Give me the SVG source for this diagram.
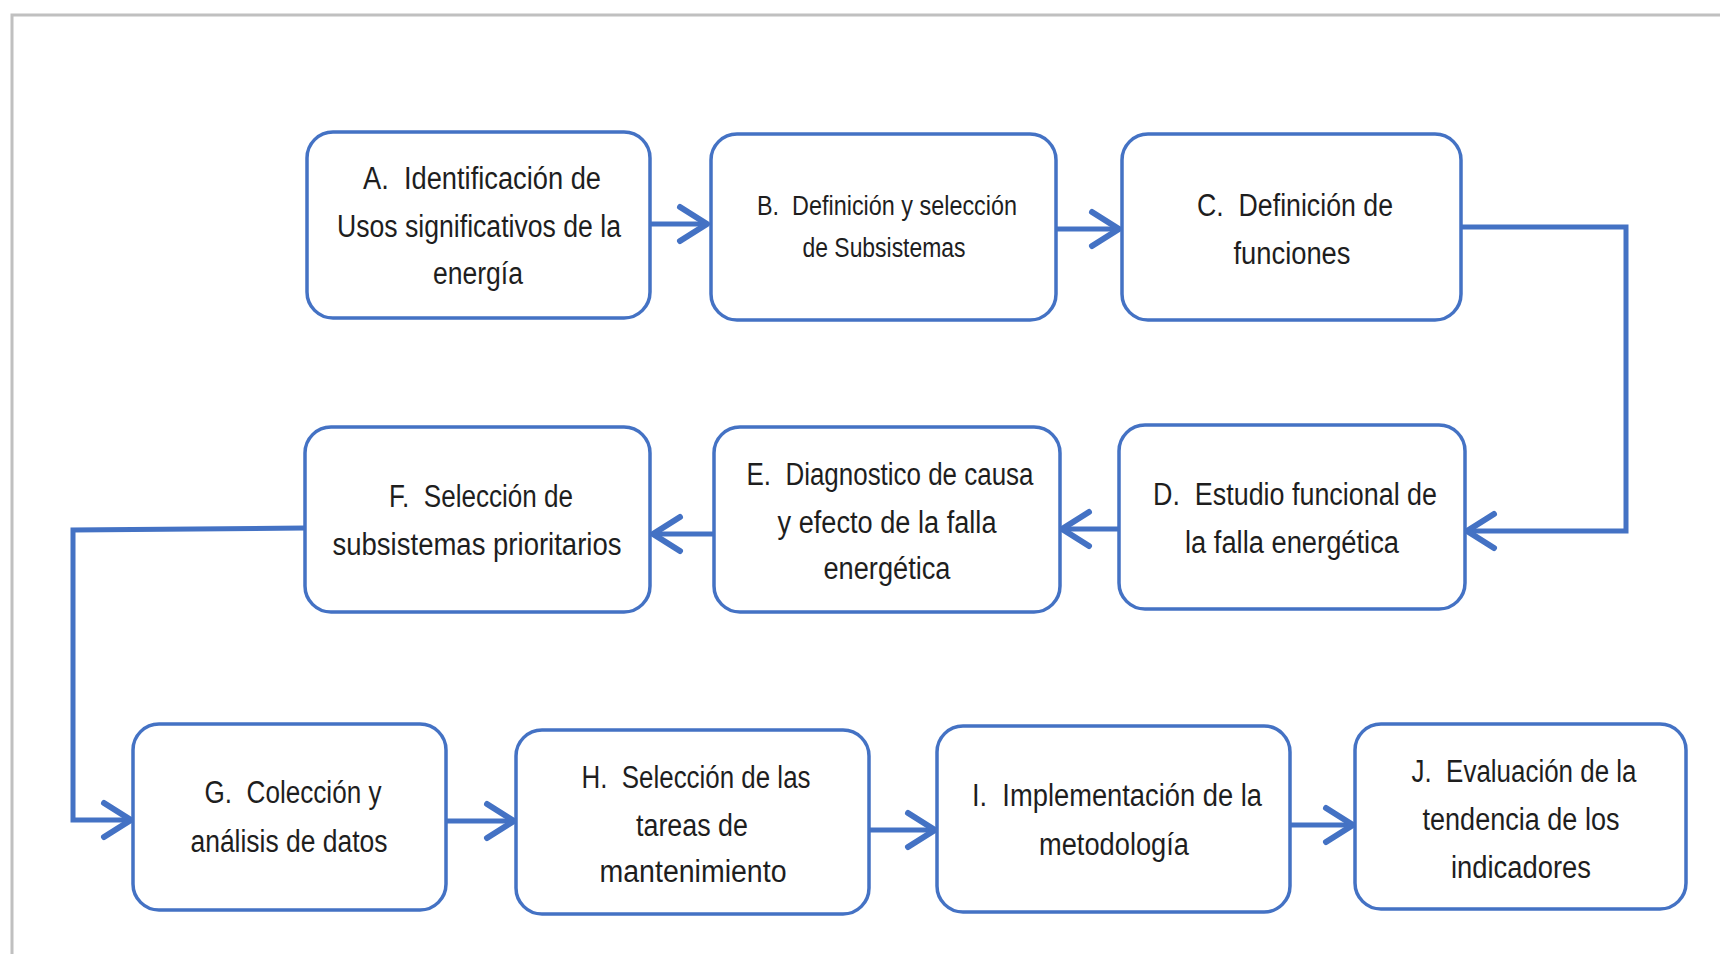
<svg xmlns="http://www.w3.org/2000/svg" width="1720" height="954" viewBox="0 0 1720 954">
<style>
.frame{fill:none;stroke:#c0c0c0;stroke-width:3}
.box{fill:#ffffff;stroke:#4472C4;stroke-width:3.5}
.t{font-family:"Liberation Sans",Arial,sans-serif;font-size:31px;fill:#1e1e1e;text-anchor:middle;white-space:pre}
.ts{font-size:27px}
.conn{fill:none;stroke:#4472C4;stroke-width:5;stroke-linejoin:miter}
</style>
<defs>
<marker id="arr" markerUnits="userSpaceOnUse" viewBox="-34 -22 40 44" refX="0" refY="0" markerWidth="40" markerHeight="44" orient="auto" overflow="visible">
<path d="M-27,-17 L0,0 L-27,17" fill="none" stroke="#4472C4" stroke-width="6" stroke-linecap="round" stroke-linejoin="round"/>
</marker>
</defs>
<rect width="1720" height="954" fill="#ffffff"/>
<rect class="frame" x="12" y="15" width="1760" height="1000"/>

<g id="connectors">
<path class="conn" d="M651,224 H707" marker-end="url(#arr)"/>
<path class="conn" d="M1057,229 H1119" marker-end="url(#arr)"/>
<path class="conn" d="M1461,227 H1626 V531 H1467" marker-end="url(#arr)"/>
<path class="conn" d="M1119,529 H1062" marker-end="url(#arr)"/>
<path class="conn" d="M714,534 H653" marker-end="url(#arr)"/>
<path class="conn" d="M305,528 L73,530 V820 H131" marker-end="url(#arr)"/>
<path class="conn" d="M447,821 H514" marker-end="url(#arr)"/>
<path class="conn" d="M870,830 H935" marker-end="url(#arr)"/>
<path class="conn" d="M1291,825 H1353" marker-end="url(#arr)"/>
</g>

<g id="nodeA">
<rect class="box" x="307" y="132" width="343" height="186" rx="26"/>
<text class="t" x="482" y="189" textLength="238" lengthAdjust="spacingAndGlyphs">A.  Identificación de</text>
<text class="t" x="479" y="237" textLength="284" lengthAdjust="spacingAndGlyphs">Usos significativos de la</text>
<text class="t" x="478" y="284" textLength="90" lengthAdjust="spacingAndGlyphs">energía</text>
</g>

<g id="nodeB">
<rect class="box" x="711" y="134" width="345" height="186" rx="26"/>
<text class="t ts" x="887" y="215" textLength="260" lengthAdjust="spacingAndGlyphs">B.  Definición y selección</text>
<text class="t ts" x="884" y="257" textLength="163" lengthAdjust="spacingAndGlyphs">de Subsistemas</text>
</g>

<g id="nodeC">
<rect class="box" x="1122" y="134" width="339" height="186" rx="26"/>
<text class="t" x="1295" y="216" textLength="196" lengthAdjust="spacingAndGlyphs">C.  Definición de</text>
<text class="t" x="1292" y="264" textLength="117" lengthAdjust="spacingAndGlyphs">funciones</text>
</g>

<g id="nodeD">
<rect class="box" x="1119" y="425" width="346" height="184" rx="26"/>
<text class="t" x="1295" y="505" textLength="284" lengthAdjust="spacingAndGlyphs">D.  Estudio funcional de</text>
<text class="t" x="1292" y="553" textLength="214" lengthAdjust="spacingAndGlyphs">la falla energética</text>
</g>

<g id="nodeE">
<rect class="box" x="714" y="427" width="346" height="185" rx="26"/>
<text class="t" x="890" y="485" textLength="287" lengthAdjust="spacingAndGlyphs">E.  Diagnostico de causa</text>
<text class="t" x="887" y="533" textLength="219" lengthAdjust="spacingAndGlyphs">y efecto de la falla</text>
<text class="t" x="887" y="579" textLength="127" lengthAdjust="spacingAndGlyphs">energética</text>
</g>

<g id="nodeF">
<rect class="box" x="305" y="427" width="345" height="185" rx="26"/>
<text class="t" x="481" y="507" textLength="184" lengthAdjust="spacingAndGlyphs">F.  Selección de</text>
<text class="t" x="477" y="555" textLength="289" lengthAdjust="spacingAndGlyphs">subsistemas prioritarios</text>
</g>

<g id="nodeG">
<rect class="box" x="133" y="724" width="313" height="186" rx="26"/>
<text class="t" x="293" y="803" textLength="177" lengthAdjust="spacingAndGlyphs">G.  Colección y</text>
<text class="t" x="289" y="852" textLength="197" lengthAdjust="spacingAndGlyphs">análisis de datos</text>
</g>

<g id="nodeH">
<rect class="box" x="516" y="730" width="353" height="184" rx="26"/>
<text class="t" x="696" y="788" textLength="229" lengthAdjust="spacingAndGlyphs">H.  Selección de las</text>
<text class="t" x="692" y="836" textLength="112" lengthAdjust="spacingAndGlyphs">tareas de</text>
<text class="t" x="693" y="882" textLength="187" lengthAdjust="spacingAndGlyphs">mantenimiento</text>
</g>

<g id="nodeI">
<rect class="box" x="937" y="726" width="353" height="186" rx="26"/>
<text class="t" x="1117" y="806" textLength="290" lengthAdjust="spacingAndGlyphs">I.  Implementación de la</text>
<text class="t" x="1114" y="855" textLength="150" lengthAdjust="spacingAndGlyphs">metodología</text>
</g>

<g id="nodeJ">
<rect class="box" x="1355" y="724" width="331" height="185" rx="26"/>
<text class="t" x="1524" y="782" textLength="225" lengthAdjust="spacingAndGlyphs">J.  Evaluación de la</text>
<text class="t" x="1521" y="830" textLength="197" lengthAdjust="spacingAndGlyphs">tendencia de los</text>
<text class="t" x="1521" y="878" textLength="140" lengthAdjust="spacingAndGlyphs">indicadores</text>
</g>
</svg>
